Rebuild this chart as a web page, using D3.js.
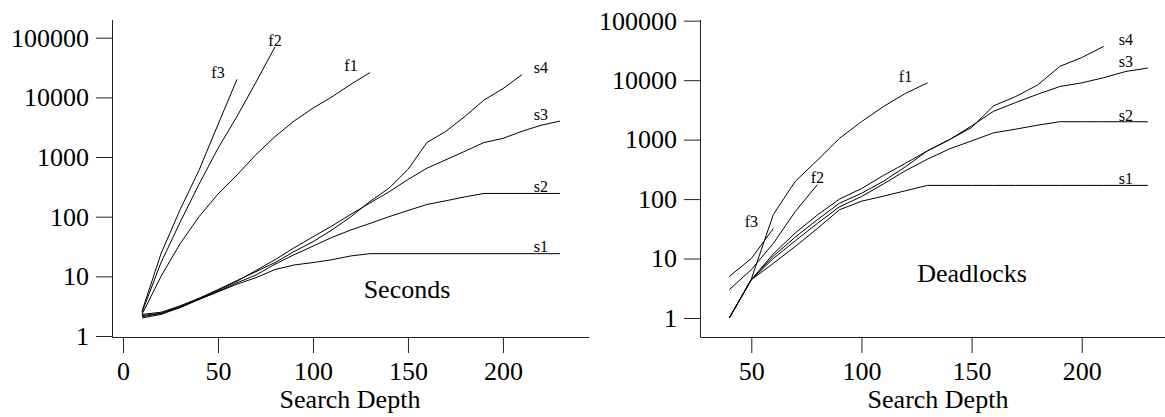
<!DOCTYPE html>
<html><head><meta charset="utf-8">
<script src="https://cdn.jsdelivr.net/npm/d3@7/dist/d3.min.js"></script>
<style>
body{margin:0;background:#fff}
svg text{font-family:"Liberation Serif","Times New Roman",serif;fill:#000}
</style>
</head><body>
<svg id="chart" width="1165" height="417"></svg>
<script>
// ---- tick labels ----
const yTickValues = [1, 10, 100, 1000, 10000, 100000];
const secondsXTicks = [0, 50, 100, 150, 200];
const deadlocksXTicks = [50, 100, 150, 200];

// ---- search depths (categories) ----
const depthStep = 10;
const secondsStartDepth = 10;
const deadlocksStartDepth = 40;

// ---- Seconds panel series (values at depth 10, 20, 30, ...) ----
const secF1 = [2.3, 10, 35, 100, 240, 500, 1100, 2200, 4000, 6600, 10200, 16600, 26000];
const secF2 = [2.5, 17, 80, 350, 1400, 4800, 18000, 70000];
const secF3 = [2.6, 24, 130, 600, 3500, 20000];
const secS1 = [2.1, 2.4, 3.0, 4.1, 5.5, 7.4, 9.5, 13, 15.5, 17, 19, 22, 24, 24, 24, 24, 24, 24, 24, 24, 24, 24, 24];
const secS2 = [2.0, 2.3, 3.0, 4.1, 5.6, 7.8, 10.5, 16, 23, 32, 45, 60, 77, 100, 127, 160, 185, 215, 245, 245, 245, 245, 245];
const secS3 = [2.2, 2.4, 3.1, 4.2, 5.8, 8.3, 12.5, 19, 30, 46, 70, 110, 170, 260, 420, 650, 900, 1250, 1750, 2050, 2700, 3400, 4000];
const secS4 = [2.3, 2.5, 3.2, 4.3, 6.0, 8.5, 12, 17, 26, 38, 60, 100, 180, 300, 620, 1750, 2700, 4800, 9000, 14000, 24000];

// ---- Deadlocks panel series (values at depth 40, 50, 60, ...) ----
const dlF1 = [1, 4.5, 55, 200, 450, 1050, 2000, 3600, 6000, 9000];
const dlF2 = [3, 6.5, 18, 62, 175];
const dlF3 = [5, 10, 32];
const dlS1 = [1, 4.4, 8.3, 16, 32, 66, 92, 112, 138, 170, 170, 170, 170, 170, 170, 170, 170, 170, 170, 170];
const dlS2 = [1, 4.4, 10, 20, 39, 74, 110, 180, 300, 470, 700, 950, 1300, 1500, 1750, 2000, 2000, 2000, 2000, 2000];
const dlS3 = [1, 4.4, 12, 27, 54, 100, 150, 250, 400, 650, 1000, 1700, 3000, 4200, 5800, 7800, 9000, 11000, 14000, 16000];
const dlS4 = [1, 4.4, 11, 23, 45, 85, 125, 200, 350, 650, 1000, 1600, 3700, 5300, 8300, 17000, 24000, 37000];

// ---- series names and label depths ----
const seriesNames = ["f1", "f2", "f3", "s1", "s2", "s3", "s4"];
const labelDepths = [120, 80, 50, 220, 220, 220, 220];

const svg = d3.select("#chart");
svg.append("rect").attr("width", 1165).attr("height", 417).attr("fill", "#fff");

function toPoints(values, start) {
  return values.map((v, i) => [start + i * depthStep, v]);
}

function drawPanel(cfg) {
  const g = svg.append("g");
  const x = d3.scaleLinear().domain(cfg.xDomain).range(cfg.xRange);
  const y = d3.scaleLog().domain([1, 100000]).range(cfg.yRange);

  // x axis
  const gx = g.append("g")
    .attr("transform", `translate(0,${cfg.axisY})`)
    .call(d3.axisBottom(x).tickValues(cfg.xTicks).tickSize(16).tickSizeOuter(0)
      .tickPadding(8.5).tickFormat(d3.format("d")));
  gx.attr("font-size", 26).attr("font-family", null);
  gx.selectAll("path,line").attr("stroke", "#222");

  // y axis
  const gy = g.append("g")
    .attr("transform", `translate(${cfg.xRange[0]},0)`)
    .call(d3.axisLeft(y).tickValues(yTickValues).tickSize(16).tickSizeOuter(0)
      .tickPadding(7).tickFormat(d3.format("d")));
  gy.select(".domain").remove();
  gy.attr("font-size", 26).attr("font-family", null);
  gy.selectAll("line").attr("stroke", "#222");
  g.append("line")
    .attr("x1", cfg.xRange[0] + 0.5).attr("x2", cfg.xRange[0] + 0.5)
    .attr("y1", cfg.axisTop).attr("y2", cfg.axisY + 0.5)
    .attr("stroke", "#222");

  const line = d3.line().x(d => x(d[0])).y(d => y(d[1]));
  cfg.series.forEach((vals, i) => {
    const pts = toPoints(vals, cfg.start);
    g.append("path").datum(pts)
      .attr("d", line).attr("fill", "none")
      .attr("stroke", "#000").attr("stroke-width", 1);
    const last = pts[pts.length - 1];
    g.append("text")
      .attr("x", x(labelDepths[i]))
      .attr("y", y(last[1]) - 6.5)
      .attr("dy", "0.33em")
      .attr("text-anchor", "middle")
      .attr("font-size", 16)
      .text(seriesNames[i]);
  });

  g.append("text").attr("x", cfg.titlePos[0]).attr("y", cfg.titlePos[1])
    .attr("text-anchor", "middle").attr("font-size", 26).text(cfg.title);
  g.append("text").attr("x", cfg.xTitleX).attr("y", 408)
    .attr("text-anchor", "middle").attr("font-size", 26).text("Search Depth");
}

drawPanel({
  xDomain: [-5.8, 245.3], xRange: [112, 589],
  yRange: [336, 37.7], axisY: 337, axisTop: 20,
  xTicks: secondsXTicks, start: secondsStartDepth,
  series: [secF1, secF2, secF3, secS1, secS2, secS3, secS4],
  title: "Seconds", titlePos: [407, 298], xTitleX: 350
});

drawPanel({
  xDomain: [26.71, 237.8], xRange: [700, 1165],
  yRange: [318, 20.7], axisY: 337, axisTop: 20,
  xTicks: deadlocksXTicks, start: deadlocksStartDepth,
  series: [dlF1, dlF2, dlF3, dlS1, dlS2, dlS3, dlS4],
  title: "Deadlocks", titlePos: [972, 282], xTitleX: 938
});
</script>
</body></html>
